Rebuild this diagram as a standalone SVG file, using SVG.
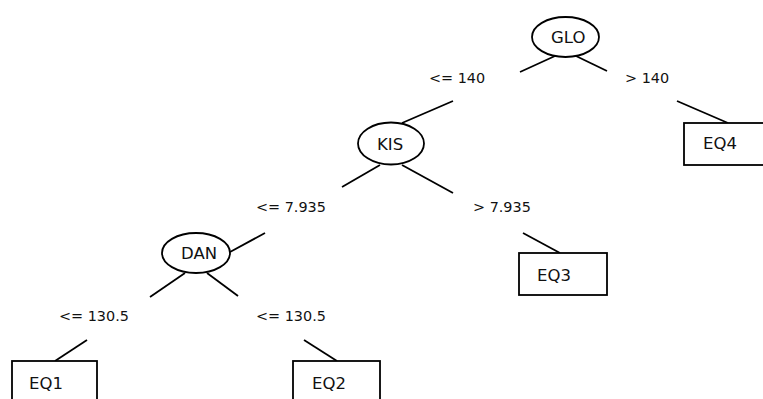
<svg xmlns="http://www.w3.org/2000/svg" width="763" height="399" viewBox="0 0 763 399">
<style>
.n ellipse,.n rect{fill:#fff;stroke:#000;stroke-width:1.8}
.n text{font-family:"DejaVu Sans",sans-serif;font-size:16.5px;fill:#111}
.e line{stroke:#000;stroke-width:1.8}
.e text{font-family:"DejaVu Sans",sans-serif;font-size:14.4px;fill:#111}
</style>
<rect width="763" height="399" fill="#fff"/>
<g id="connectors" class="e">
<line x1="555" y1="56" x2="520" y2="72"/>
<line x1="576" y1="56" x2="607" y2="71"/>
<text x="429" y="83">&lt;= 140</text>
<text x="625" y="83">&gt; 140</text>
<line x1="453" y1="101" x2="402" y2="123"/>
<line x1="677" y1="101" x2="728" y2="123"/>
<line x1="380" y1="165" x2="342" y2="187"/>
<line x1="402" y1="165" x2="453" y2="193"/>
<text x="256" y="212">&lt;= 7.935</text>
<text x="473" y="212">&gt; 7.935</text>
<line x1="265" y1="233" x2="230" y2="252"/>
<line x1="523" y1="233" x2="560" y2="253"/>
<line x1="185" y1="273" x2="150" y2="297"/>
<line x1="207" y1="273" x2="238" y2="296"/>
<text x="59" y="321">&lt;= 130.5</text>
<text x="256" y="321">&lt;= 130.5</text>
<line x1="87" y1="340" x2="55" y2="361"/>
<line x1="304" y1="340" x2="337" y2="361"/>
</g>
<g id="GLO" class="n"><ellipse cx="565.5" cy="37" rx="33.5" ry="20"/><text x="551" y="43">GLO</text></g>
<g id="KIS" class="n"><ellipse cx="391" cy="143.5" rx="33" ry="21"/><text x="377" y="150">KIS</text></g>
<g id="DAN" class="n"><ellipse cx="196" cy="253" rx="34" ry="20"/><text x="181" y="259">DAN</text></g>
<g id="EQ4" class="n"><rect x="684" y="123" width="90" height="42"/><text x="703" y="149">EQ4</text></g>
<g id="EQ3" class="n"><rect x="519" y="253" width="88" height="42"/><text x="537" y="281">EQ3</text></g>
<g id="EQ1" class="n"><rect x="12" y="361" width="85" height="50"/><text x="29" y="389">EQ1</text></g>
<g id="EQ2" class="n"><rect x="293" y="361" width="87" height="50"/><text x="312" y="389">EQ2</text></g>
</svg>
